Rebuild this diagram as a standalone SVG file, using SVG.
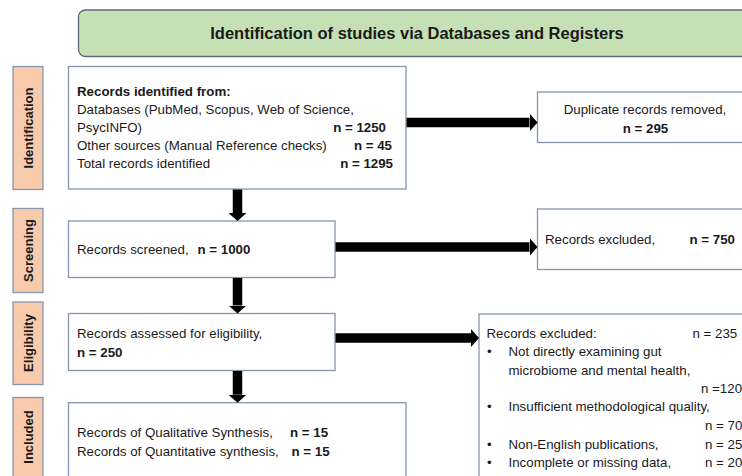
<svg xmlns="http://www.w3.org/2000/svg" width="742" height="476" viewBox="0 0 742 476">
<style>
  .t { font-family: "Liberation Sans", Arial, sans-serif; font-size: 13.3px; fill: #1a1a1a; }
  .b { font-weight: bold; }
  .lbl { font-family: "Liberation Sans", Arial, sans-serif; font-size: 13px; font-weight: bold; fill: #1a1a1a; text-anchor: middle; }
  .box { fill: #ffffff; stroke: #8496B0; stroke-width: 1.3; }
  .side { fill: #F8CBAD; stroke: #8496B0; stroke-width: 1.3; }
  .conn { stroke: #000000; stroke-width: 9.5; fill: none; }
</style>
<defs>
  <marker id="ah" markerUnits="userSpaceOnUse" viewBox="0 0 8 18" refX="0" refY="9" markerWidth="8" markerHeight="18" orient="auto">
    <path d="M0,0 L8,9 L0,18 z" fill="#000000"/>
  </marker>
</defs>
<rect width="742" height="476" fill="#ffffff"/>

<g id="title">
  <rect x="78.5" y="10" width="680" height="46.5" rx="7" ry="7" fill="#C5E0B4" stroke="#5E6B78" stroke-width="1.3"/>
  <text x="417" y="39" class="t b" style="font-size:16.5px" text-anchor="middle">Identification of studies via Databases and Registers</text>
</g>

<g id="label-identification">
  <rect class="side" x="13" y="66.5" width="30" height="123"/>
  <text class="lbl" transform="translate(32.5,128) rotate(-90)">Identification</text>
</g>
<g id="label-screening">
  <rect class="side" x="13" y="208.5" width="30" height="84"/>
  <text class="lbl" transform="translate(32.5,250.5) rotate(-90)">Screening</text>
</g>
<g id="label-eligibility">
  <rect class="side" x="13" y="302" width="30" height="82.5"/>
  <text class="lbl" transform="translate(32.5,343) rotate(-90)">Eligibility</text>
</g>
<g id="label-included">
  <rect class="side" x="13" y="397.5" width="30" height="100"/>
  <text class="lbl" transform="translate(32.5,437) rotate(-90)">Included</text>
</g>

<g id="records-identified">
  <rect class="box" x="68.5" y="66.5" width="337.5" height="122.5"/>
  <text class="t b" x="77" y="96">Records identified from:</text>
  <text class="t" x="77" y="114">Databases (PubMed, Scopus, Web of Science,</text>
  <text class="t" x="77" y="132">PsycINFO)</text>
  <text class="t b" x="386" y="132" text-anchor="end">n = 1250</text>
  <text class="t" x="77" y="150">Other sources (Manual Reference checks)</text>
  <text class="t b" x="392" y="150" text-anchor="end">n = 45</text>
  <text class="t" x="77" y="168">Total records identified</text>
  <text class="t b" x="393" y="168" text-anchor="end">n = 1295</text>
</g>

<g id="duplicates-removed">
  <rect class="box" x="537.5" y="92" width="216" height="50.5"/>
  <text class="t" x="645" y="113.5" text-anchor="middle">Duplicate records removed,</text>
  <text class="t b" x="645.5" y="132.5" text-anchor="middle">n = 295</text>
</g>

<g id="records-screened">
  <rect class="box" x="68.5" y="221" width="266.5" height="56.5"/>
  <text class="t" x="77" y="254">Records screened,</text>
  <text class="t b" x="197.5" y="254">n = 1000</text>
</g>

<g id="records-excluded-screening">
  <rect class="box" x="537.5" y="209" width="216" height="60.5"/>
  <text class="t" x="545" y="244">Records excluded,</text>
  <text class="t b" x="689.5" y="244">n = 750</text>
</g>

<g id="records-assessed">
  <rect class="box" x="68.5" y="313.5" width="266.5" height="57"/>
  <text class="t" x="77" y="337.5">Records assessed for eligibility,</text>
  <text class="t b" x="77" y="356.5">n = 250</text>
</g>

<g id="records-excluded-eligibility">
  <rect class="box" x="479" y="314" width="280" height="180"/>
  <text class="t" x="486.5" y="337.5">Records excluded:</text>
  <text class="t" x="692.5" y="337.5">n = 235</text>
  <text class="t" x="487" y="356">•</text>
  <text class="t" x="508.5" y="356">Not directly examining gut</text>
  <text class="t" x="508.5" y="374.5">microbiome and mental health,</text>
  <text class="t" x="701" y="393">n =120</text>
  <text class="t" x="487" y="411">•</text>
  <text class="t" x="508.5" y="411">Insufficient methodological quality,</text>
  <text class="t" x="705" y="430">n = 70</text>
  <text class="t" x="487" y="449">•</text>
  <text class="t" x="508.5" y="449">Non-English publications,</text>
  <text class="t" x="705" y="449">n = 25</text>
  <text class="t" x="487" y="467">•</text>
  <text class="t" x="508.5" y="467">Incomplete or missing data,</text>
  <text class="t" x="705" y="467">n = 20</text>
</g>

<g id="records-included">
  <rect class="box" x="68.5" y="402.7" width="337.5" height="90"/>
  <text class="t" x="77" y="437">Records of Qualitative Synthesis,</text>
  <text class="t b" x="290" y="437">n = 15</text>
  <text class="t" x="77" y="455.5">Records of Quantitative synthesis,</text>
  <text class="t b" x="291.5" y="455.5">n = 15</text>
</g>

<g id="connectors">
  <line class="conn" x1="406.5" y1="122.5" x2="529.5" y2="122.5" marker-end="url(#ah)"/>
  <line class="conn" x1="335.5" y1="247" x2="529.5" y2="247" marker-end="url(#ah)"/>
  <line class="conn" x1="335.5" y1="338" x2="471" y2="338" marker-end="url(#ah)"/>
  <line class="conn" x1="237.5" y1="189.5" x2="237.5" y2="213" marker-end="url(#ah)"/>
  <line class="conn" x1="237.5" y1="278" x2="237.5" y2="305.5" marker-end="url(#ah)"/>
  <line class="conn" x1="237.5" y1="371" x2="237.5" y2="394.7" marker-end="url(#ah)"/>
</g>
</svg>
